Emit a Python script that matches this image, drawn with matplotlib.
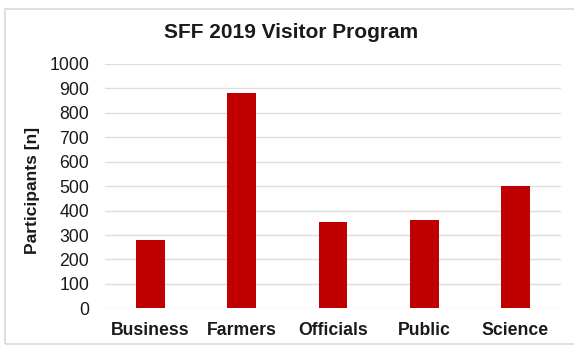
import matplotlib
matplotlib.use('Agg')
import matplotlib.pyplot as plt
from matplotlib.patches import Rectangle

# visitor groups and participant counts
groups = ['Business', 'Farmers', 'Officials', 'Public', 'Science']
participants = [280, 880, 355, 362, 500]
yticks = [0, 100, 200, 300, 400, 500, 600, 700, 800, 900, 1000]

plt.rcParams['font.family'] = ['Liberation Sans', 'DejaVu Sans']

fig = plt.figure(figsize=(5.74, 3.45), dpi=100)
ax = fig.add_axes([0.1829, 0.1064, 0.7945, 0.7081])

# light frame round the whole chart
fig.patches.append(Rectangle((5 / 574, 1 / 345), 1.2, 1 - 10 / 345,
                             transform=fig.transFigure, fill=False,
                             edgecolor='#d9d9d9', linewidth=1.2, zorder=0))

ax.bar(range(len(groups)), participants, width=0.315, color='#c00000', zorder=3)

ax.set_xlim(-0.5, len(groups) - 0.5)
ax.set_ylim(0, 1000)
ax.set_yticks(yticks)
ax.set_yticklabels([str(t) for t in yticks])
ax.set_xticks(range(len(groups)))
ax.set_xticklabels(groups, fontweight='bold')

ax.grid(axis='y', color='#dedede', linewidth=1, zorder=0)
ax.set_axisbelow(True)
for s in ax.spines.values():
    s.set_visible(False)

ax.tick_params(axis='y', length=0, pad=11.3, labelsize=12.7, labelcolor='#1a1a1a')
ax.tick_params(axis='x', length=0, pad=9.8, labelsize=12.7, labelcolor='#1a1a1a')

fig.text(32.5 / 574, 1 - 190 / 345, 'Participants [n]', rotation=90,
         ha='center', va='center', fontsize=12.6, fontweight='bold', color='#1a1a1a')
fig.text(291 / 574, 1 - 33 / 345, 'SFF 2019 Visitor Program', ha='center',
         va='center', fontsize=15, fontweight='bold', color='#1a1a1a')

fig.savefig('out.png', dpi=100)
